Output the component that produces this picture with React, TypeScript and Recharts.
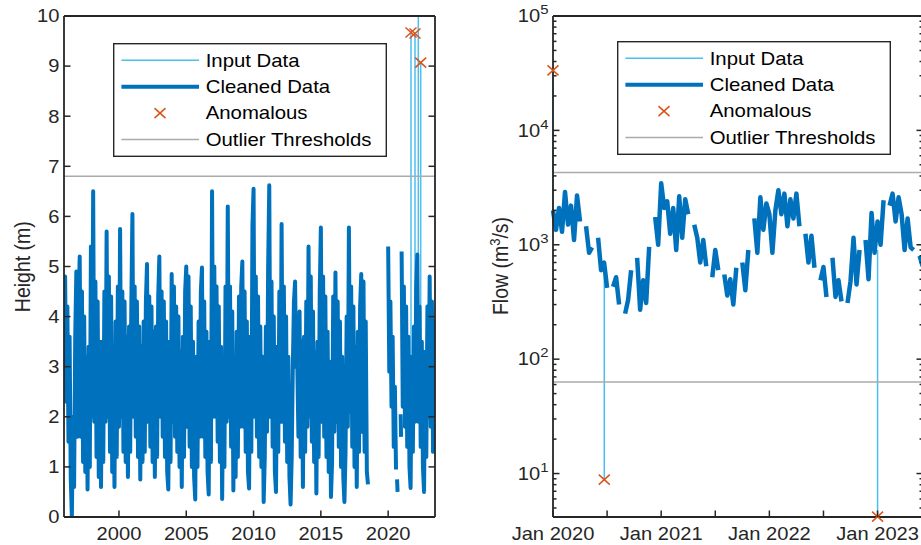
import {
  ComposedChart,
  Line,
  Scatter,
  XAxis,
  YAxis,
  ReferenceLine,
  Legend,
  Label,
} from "recharts";

const FONT = '"Liberation Sans", Arial, Helvetica, sans-serif';
const STRETCH = 1.15; // the source picture is a little wider than tall
const AXIS = "#262626";
const INPUT = "#4DBEEE";
const CLEANED = "#0072BD";
const ANOMALY = "#D95319";
const THRESHOLD = "#ABABAB";
const TICK_FONT = 17.5;
const LABEL_FONT = 19.5;
const MAJOR = 6.5;
const MINOR = 3.5;

// ---------- left panel: river height (m), monthly samples from Dec 1995 ----------
const heightStart = 1995.917;
const heightValues: (number | null)[] = [
  // 1996
  3.4, 4.8, 2.3, 4.2, 1.5, 3.6, 0.8, 0.0, 2.0, 0.6, 3.6, 4.9,
  // 1997
  1.6, 4.2, 5.2, 1.6, 4.5, 1.1, 4.0, 0.9, 3.2, 0.55, 3.4, 1.0,
  // 1998
  5.4, 2.0, 6.5, 1.9, 4.7, 1.2, 4.3, 0.8, 3.5, 0.6, 3.5, 1.1,
  // 1999
  4.5, 1.9, 5.7, 2.0, 4.8, 1.3, 4.4, 0.9, 3.4, 0.6, 3.9, 1.2,
  // 2000
  4.6, 1.8, 5.75, 2.0, 4.5, 1.3, 4.3, 1.1, 3.6, 0.8, 3.8, 1.3,
  // 2001
  4.2, 6.05, 2.0, 4.6, 1.6, 4.3, 1.2, 3.8, 0.75, 3.4, 1.1, 3.9,
  // 2002
  1.3, 4.3, 5.05, 1.9, 4.4, 1.4, 4.2, 1.1, 3.7, 0.8, 3.8, 1.2,
  // 2003
  4.4, 5.2, 2.0, 4.5, 1.6, 4.3, 1.2, 3.9, 0.9, 0.55, 3.5, 1.1,
  // 2004
  4.85, 1.9, 4.6, 1.6, 4.2, 1.3, 4.0, 1.0, 3.3, 0.6, 3.6, 1.2,
  // 2005
  4.5, 5.0, 1.8, 4.8, 1.4, 4.2, 1.0, 3.5, 0.8, 0.35, 3.2, 1.0,
  // 2006
  3.9, 1.6, 4.5, 4.98, 1.6, 4.3, 1.2, 3.7, 0.9, 0.45, 3.5, 1.1,
  // 2007
  6.5, 2.0, 5.0, 2.0, 4.6, 1.5, 4.2, 1.1, 3.4, 0.36, 3.0, 1.0,
  // 2008
  4.6, 1.9, 6.2, 2.0, 4.6, 1.4, 4.1, 0.53, 3.2, 0.8, 3.7, 1.2,
  // 2009
  4.4, 1.8, 4.6, 5.1, 1.8, 4.5, 1.3, 3.9, 0.9, 0.57, 3.6, 1.3,
  // 2010
  5.8, 6.55, 2.0, 4.8, 1.6, 4.4, 1.2, 3.8, 1.0, 3.2, 0.3, 1.2,
  // 2011
  3.8, 1.7, 5.0, 6.62, 2.0, 4.7, 1.4, 4.0, 0.9, 0.5, 3.4, 1.3,
  // 2012
  4.5, 1.9, 5.85, 1.9, 4.6, 1.5, 4.0, 1.1, 3.2, 0.8, 0.25, 1.2,
  // 2013
  3.0, 4.3, 4.7, 3.0, 3.0, 1.6, 4.1, 1.2, 3.5, 0.6, 3.6, 1.3,
  // 2014
  4.3, 1.8, 5.4, 2.0, 4.8, 1.5, 4.1, 1.1, 3.3, 0.47, 3.5, 1.2,
  // 2015
  4.5, 5.78, 1.9, 4.8, 1.6, 4.4, 1.2, 3.7, 0.9, 3.1, 0.4, 1.1,
  // 2016
  4.4, 1.7, 4.88, 1.9, 4.3, 1.4, 3.9, 1.0, 3.2, 0.8, 0.3, 1.3,
  // 2017
  4.0, 1.8, 5.78, 2.1, 4.6, 1.4, 4.2, 1.0, 3.4, 0.6, 3.7, 1.3,
  // 2018
  4.2, 4.85, 1.7, 4.7, 1.3, 3.9, 0.9, 0.65, null, null, null, null,
  // 2019
  null, null, null, null, null, null, null, null, null, null, null, null,
  // 2020
  null, 5.4, 2.9, 4.3, 2.2, 3.6, 1.4, 2.6, 0.95, null, null, null,
  // 2021
  null, 5.3, 2.2, 4.6, 1.8, 4.2, 1.4, 3.6, 1.0, 0.58, 3.2, 1.3,
  // 2022
  3.8, 1.9, 4.6, 5.24, 1.9, 4.2, 1.4, 3.5, 1.0, 0.5, 3.3, 1.2,
  // 2023
  4.2, 2.0, 4.8, 1.8, 4.3, 1.3, 3.9, 1.3,
];
// short isolated pieces in late 2020
const heightPieces = [
  { t: 2020.66, v: 0.75 },
  { t: 2020.7, v: 0.5 },
  { t: 2020.8, v: null },
  { t: 2020.93, v: 2.05 },
  { t: 2020.96, v: 1.6 },
];
const heightSpikes = [
  { t: 2021.697, base: 2.6, peak: 9.67 },
  { t: 2021.994, base: 3.0, peak: 9.65 },
  { t: 2022.24, base: 3.5, peak: 10.6 },
  { t: 2022.418, base: 2.0, peak: 9.07 },
];
const heightAnomalies = [
  { t: 2021.697, v: 9.67 },
  { t: 2021.994, v: 9.65 },
  { t: 2022.418, v: 9.07 },
];
const heightThreshold = 6.8;
const heightXTicks = [2000, 2005, 2010, 2015, 2020];
const heightYTicks = [0, 1, 2, 3, 4, 5, 6, 7, 8, 9, 10];

// ---------- right panel: flow (m3/s), samples every ~10 days from Jan 2020 ----------
const flowStart = 2020;
const flowValues: (number | null)[] = [
  2000, 1350, 2100, 1300, 2900, 1500, 2200, 1100, 2700, 1600,
  null, 1450, 850, 950, null, 1150, 600, 700, 420, null,
  430, 520, 300, null, 250, 330, 600, null, 770, 270,
  490, 310, 960, null, 1750, 1000, 3450, 2100, 2400, 1250,
  2100, 900, 2650, 1150, 2500, 1850, null, 1500, 1150, 700,
  1100, 650, null, 520, 900, 600, null, 550, 360, 500,
  300, 630, null, 700, 400, 900, null, 1700, 850, 2600,
  1350, 2300, 1850, 850, 2000, 3000, 1850, 2800, 1450, 2500,
  1700, 2800, 1450, null, 1250, 700, 1200, 630, null, 490,
  640, 350, null, 770, 350, 490, 320, null, 310, 480,
  1150, 450, 900, null, 1100, 500, 1900, 850, 1600, 1000,
  2450, null, 2200, 2800, 1600, 2600, 1850, 900, 1700, 950,
  900, null, 800, 650,
];
const flowSpikes = [
  { t: 2020.0, base: 2000, peak: 33500 },
  { t: 2020.474, base: 650, peak: 8.85 },
  { t: 2023.0, base: 900, peak: 4.2 },
];
const flowAnomalies = [
  { t: 2020.0, v: 33500 },
  { t: 2020.474, v: 8.85 },
  { t: 2023.0, v: 4.2 },
];
const flowThresholds = [4276, 63.2];
const flowXTicks = [2020, 2020.5, 2021, 2021.5, 2022, 2022.5, 2023];
const flowYMajor = [10, 100, 1000, 10000, 100000];
const flowYMinor = [
  5, 6, 7, 8, 9, 20, 30, 40, 50, 60, 70, 80, 90, 200, 300, 400, 500, 600, 700,
  800, 900, 2000, 3000, 4000, 5000, 6000, 7000, 8000, 9000, 20000, 30000,
  40000, 50000, 60000, 70000, 80000, 90000,
];

const legendNames = ["Input Data", "Cleaned Data", "Anomalous", "Outlier Thresholds"];

// ---------- built series ----------
const heightCleaned = heightValues.map((v, i) => ({ t: heightStart + i / 12, v }));
const flowCleaned = flowValues.map((v, i) => ({ t: flowStart + i / 36, v }));
const spikeSeries = (spikes: { t: number; base: number; peak: number }[]) =>
  spikes.flatMap((s) => [
    { t: s.t, v: s.base },
    { t: s.t, v: s.peak },
    { t: s.t + 0.001, v: null },
  ]);
const heightInput = spikeSeries(heightSpikes);
const flowInput = spikeSeries(flowSpikes);
const flowYTicks = [...flowYMinor, ...flowYMajor].sort((a, b) => a - b);

// ---------- drawing helpers ----------
const StretchText = ({ x, y, anchor, dy, children, size = TICK_FONT, color = AXIS }: any) => (
  <text
    transform={`translate(${x},${y}) scale(${STRETCH},1)`}
    textAnchor={anchor}
    dy={dy}
    fontSize={size}
    fontFamily={FONT}
    fill={color}
  >
    {children}
  </text>
);

const XMark = ({ cx, cy }: any) => (
  <g stroke={ANOMALY} strokeWidth={1.5}>
    <line x1={cx - 5.5} y1={cy - 5} x2={cx + 5.5} y2={cy + 5} />
    <line x1={cx - 5.5} y1={cy + 5} x2={cx + 5.5} y2={cy - 5} />
  </g>
);

const LeftTick = ({ x, y, payload }: any) => (
  <g>
    <line x1={x} x2={x + MAJOR} y1={y} y2={y} stroke={AXIS} strokeWidth={1.5} />
    <StretchText x={x - 4.5} y={y} anchor="end" dy="0.36em">
      {payload.value}
    </StretchText>
  </g>
);

const RightTick = ({ x, y }: any) => (
  <line x1={x} x2={x - MAJOR} y1={y} y2={y} stroke={AXIS} strokeWidth={1.5} />
);

const TopTick = ({ x, y }: any) => (
  <line x1={x} x2={x} y1={y} y2={y + MAJOR} stroke={AXIS} strokeWidth={1.5} />
);

const YearTick = ({ x, y, payload }: any) => (
  <g>
    <line x1={x} x2={x} y1={y} y2={y - MAJOR} stroke={AXIS} strokeWidth={1.5} />
    <StretchText x={x} y={y + 11} anchor="middle" dy="0.71em">
      {payload.value}
    </StretchText>
  </g>
);

const MonthTick = ({ x, y, payload }: any) => (
  <g>
    <line x1={x} x2={x} y1={y} y2={y - MAJOR} stroke={AXIS} strokeWidth={1.5} />
    {Number.isInteger(payload.value) && (
      <StretchText x={x} y={y + 11} anchor="middle" dy="0.71em">
        {`Jan ${payload.value}`}
      </StretchText>
    )}
  </g>
);

const isMajor = (v: number) => flowYMajor.includes(v);

const LogLeftTick = ({ x, y, payload }: any) => {
  const v = payload.value;
  const len = isMajor(v) ? MAJOR : MINOR;
  return (
    <g>
      <line x1={x} x2={x + len} y1={y} y2={y} stroke={AXIS} strokeWidth={1.5} />
      {isMajor(v) && (
        <text
          transform={`translate(${x - 4.5},${y}) scale(${STRETCH},1)`}
          textAnchor="end"
          fontSize={TICK_FONT}
          fontFamily={FONT}
          fill={AXIS}
        >
          <tspan dy="0.36em">10</tspan>
          <tspan dy={-8} fontSize={13}>
            {Math.round(Math.log10(v))}
          </tspan>
        </text>
      )}
    </g>
  );
};

const LogRightTick = ({ x, y, payload }: any) => {
  const len = isMajor(payload.value) ? MAJOR : MINOR;
  return <line x1={x} x2={x - len} y1={y} y2={y} stroke={AXIS} strokeWidth={1.5} />;
};

const LegendBox = () => (
  <svg width={274} height={114} style={{ display: "block", overflow: "visible" }}>
    <rect x={0.7} y={0.7} width={272.6} height={112.6} fill="#fff" stroke={AXIS} strokeWidth={1.4} />
    {legendNames.map((name, i) => {
      const cy = 17.3 + i * 26.4;
      return (
        <g key={name}>
          {i === 0 && <line x1={8.4} x2={86} y1={cy} y2={cy} stroke={INPUT} strokeWidth={1.5} />}
          {i === 1 && <line x1={8.4} x2={86} y1={cy} y2={cy} stroke={CLEANED} strokeWidth={4} />}
          {i === 2 && <XMark cx={47} cy={cy} />}
          {i === 3 && <line x1={8.4} x2={86} y1={cy} y2={cy} stroke={THRESHOLD} strokeWidth={1.5} />}
          <text
            transform={`translate(92.7,${cy}) scale(${STRETCH},1)`}
            dy="0.36em"
            fontSize={17.7}
            fontFamily={FONT}
            fill="#000"
          >
            {name}
          </text>
        </g>
      );
    })}
  </svg>
);

const axisLine = { stroke: AXIS, strokeWidth: 1.8 };

const HeightChart = () => (
  <ComposedChart width={460} height={545} margin={{ top: 15, right: 24, bottom: 0, left: 0 }}>
    <Line
      data={heightInput}
      dataKey="v"
      type="linear"
      stroke={INPUT}
      strokeWidth={1.5}
      dot={false}
      activeDot={false}
      isAnimationActive={false}
    />
    <Line
      data={heightCleaned}
      dataKey="v"
      type="linear"
      stroke={CLEANED}
      strokeWidth={4}
      strokeLinejoin="round"
      dot={false}
      activeDot={false}
      isAnimationActive={false}
    />
    <Line
      data={heightPieces}
      dataKey="v"
      type="linear"
      stroke={CLEANED}
      strokeWidth={4}
      dot={false}
      activeDot={false}
      isAnimationActive={false}
    />
    <Scatter
      data={heightAnomalies}
      dataKey="v"
      shape={(p: any) => <XMark cx={p.cx} cy={p.cy} />}
      isAnimationActive={false}
    />
    <ReferenceLine y={heightThreshold} stroke={THRESHOLD} strokeWidth={1.5} />
    <XAxis
      dataKey="t"
      type="number"
      domain={[1995.917, 2023.48]}
      allowDataOverflow
      ticks={heightXTicks}
      interval={0}
      tick={YearTick}
      tickLine={false}
      tickSize={0}
      tickMargin={0}
      axisLine={axisLine}
      height={28}
    />
    <XAxis
      xAxisId="top"
      orientation="top"
      type="number"
      domain={[1995.917, 2023.48]}
      allowDataOverflow
      ticks={heightXTicks}
      interval={0}
      tick={TopTick}
      tickLine={false}
      tickSize={0}
      tickMargin={0}
      axisLine={axisLine}
      height={1}
    />
    <YAxis
      type="number"
      domain={[0, 10]}
      allowDataOverflow
      ticks={heightYTicks}
      interval={0}
      tick={LeftTick}
      tickLine={false}
      tickSize={0}
      tickMargin={0}
      axisLine={axisLine}
      width={64}
    >
      <Label
        content={() => (
          <text
            transform={`translate(29.5,266.7) scale(${STRETCH},1) rotate(-90)`}
            textAnchor="middle"
            fontSize={LABEL_FONT}
            fontFamily={FONT}
            fill={AXIS}
          >
            Height (m)
          </text>
        )}
      />
    </YAxis>
    <YAxis
      yAxisId="right"
      orientation="right"
      type="number"
      domain={[0, 10]}
      allowDataOverflow
      ticks={heightYTicks}
      interval={0}
      tick={RightTick}
      tickLine={false}
      tickSize={0}
      tickMargin={0}
      axisLine={axisLine}
      width={1}
    />
    <Legend
      layout="vertical"
      align="center"
      verticalAlign="middle"
      content={LegendBox}
      wrapperStyle={{ left: 113, top: 43, width: 274, height: 114 }}
    />
  </ComposedChart>
);

const FlowChart = () => (
  <ComposedChart width={480} height={545} margin={{ top: 15, right: 16, bottom: 0, left: 0 }}>
    <Line
      data={flowInput}
      dataKey="v"
      type="linear"
      stroke={INPUT}
      strokeWidth={1.5}
      dot={false}
      activeDot={false}
      isAnimationActive={false}
    />
    <Line
      data={flowCleaned}
      dataKey="v"
      type="linear"
      stroke={CLEANED}
      strokeWidth={4.5}
      strokeLinejoin="round"
      dot={false}
      activeDot={false}
      isAnimationActive={false}
    />
    <Scatter
      data={flowAnomalies}
      dataKey="v"
      shape={(p: any) => <XMark cx={p.cx} cy={p.cy} />}
      isAnimationActive={false}
    />
    {flowThresholds.map((v) => (
      <ReferenceLine key={v} y={v} stroke={THRESHOLD} strokeWidth={1.5} />
    ))}
    <XAxis
      dataKey="t"
      type="number"
      domain={[2020, 2023.42]}
      ticks={flowXTicks}
      interval={0}
      tick={MonthTick}
      tickLine={false}
      tickSize={0}
      tickMargin={0}
      axisLine={axisLine}
      height={28}
    />
    <XAxis
      xAxisId="top"
      orientation="top"
      type="number"
      domain={[2020, 2023.42]}
      allowDataOverflow
      ticks={flowXTicks}
      interval={0}
      tick={TopTick}
      tickLine={false}
      tickSize={0}
      tickMargin={0}
      axisLine={axisLine}
      height={1}
    />
    <YAxis
      type="number"
      scale="log"
      domain={[4.17, 100000]}
      ticks={flowYTicks}
      interval={0}
      tick={LogLeftTick}
      tickLine={false}
      tickSize={0}
      tickMargin={0}
      axisLine={axisLine}
      width={93}
    >
      <Label
        content={() => (
          <text
            transform={`translate(47.8,266) scale(${STRETCH},1) rotate(-90)`}
            textAnchor="middle"
            fontSize={LABEL_FONT}
            fontFamily={FONT}
            fill={AXIS}
          >
            Flow (m
            <tspan dy={-7} fontSize={13}>
              3
            </tspan>
            <tspan dy={7}>/s)</tspan>
          </text>
        )}
      />
    </YAxis>
    <YAxis
      yAxisId="right"
      orientation="right"
      type="number"
      scale="log"
      domain={[4.17, 100000]}
      allowDataOverflow
      ticks={flowYTicks}
      interval={0}
      tick={LogRightTick}
      tickLine={false}
      tickSize={0}
      tickMargin={0}
      axisLine={axisLine}
      width={1}
    />
    <Legend
      layout="vertical"
      align="center"
      verticalAlign="middle"
      content={LegendBox}
      wrapperStyle={{ left: 157, top: 41, width: 274, height: 114 }}
    />
  </ComposedChart>
);

export default function App() {
  return (
    <div
      style={{
        position: "fixed",
        left: 0,
        top: 0,
        width: 921,
        height: 545,
        overflow: "hidden",
        background: "#fff",
      }}
    >
      <div style={{ position: "absolute", left: 0, top: 0 }}>
        <HeightChart />
      </div>
      <div style={{ position: "absolute", left: 460, top: 0 }}>
        <FlowChart />
      </div>
    </div>
  );
}
